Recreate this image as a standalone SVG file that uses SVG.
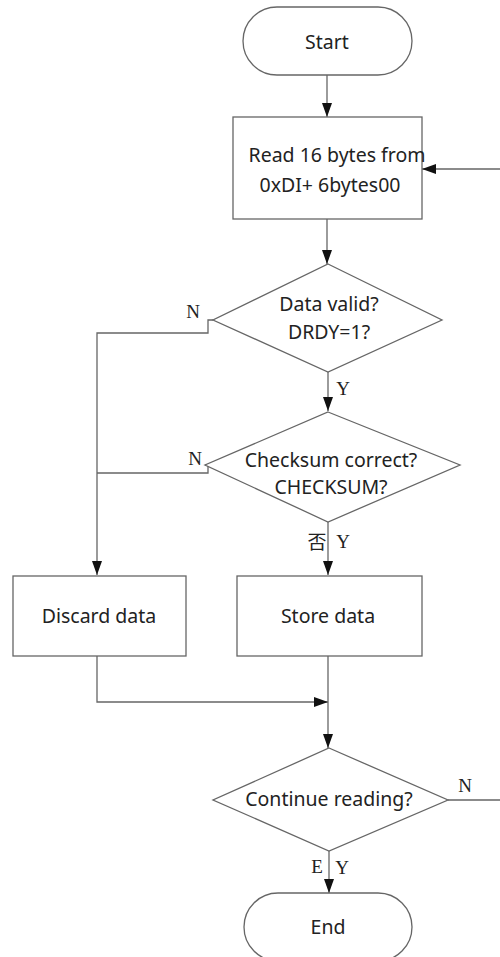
<svg xmlns="http://www.w3.org/2000/svg" width="500" height="957" viewBox="0 0 500 957">
<defs>
<marker id="ah" viewBox="0 0 14 10" refX="14" refY="5" markerWidth="14" markerHeight="10" markerUnits="userSpaceOnUse" orient="auto">
<path d="M0,0 L14,5 L0,10 Z" fill="#111"/>
</marker>
</defs>
<style>
.shape{fill:#fff;stroke:#666;stroke-width:1.3}
.line{fill:none;stroke:#666;stroke-width:1.3}
.t{font-family:"Noto Sans","Open Sans",sans-serif;font-size:19.5px;fill:#222;text-anchor:middle;dominant-baseline:central}
.lbl{font-family:"Liberation Serif","Noto Sans CJK SC",serif;font-size:19px;fill:#222;text-anchor:middle;dominant-baseline:central}
</style>
<rect width="500" height="957" fill="#fff"/>
<g id="connectors">
<path class="line" d="M327,75 V117" marker-end="url(#ah)"/>
<path class="line" d="M327,219 V264" marker-end="url(#ah)"/>
<path class="line" d="M328,372 V411" marker-end="url(#ah)"/>
<path class="line" d="M328,522 V575" marker-end="url(#ah)"/>
<path class="line" d="M213,320 H208 V333 H97 V575" marker-end="url(#ah)"/>
<path class="line" d="M205,465 H208 V473 H97"/>
<path class="line" d="M97,656 V702 H328" marker-end="url(#ah)"/>
<path class="line" d="M328,656 V748" marker-end="url(#ah)"/>
<path class="line" d="M329,851 V893" marker-end="url(#ah)"/>
<path class="line" d="M448,800 H502 V169 H422" marker-end="url(#ah)"/>
<text class="lbl" x="193" y="311">N</text>
<text class="lbl" x="343" y="388">Y</text>
<text class="lbl" x="195" y="458">N</text>
<text class="lbl" x="317" y="542" font-size="15">否</text>
<text class="lbl" x="343" y="541">Y</text>
<text class="lbl" x="465" y="785">N</text>
<text class="lbl" x="317" y="866">E</text>
<text class="lbl" x="342" y="867">Y</text>
</g>
<g id="start">
<rect class="shape" x="243" y="7" width="169" height="68" rx="34" ry="34"/>
<text class="t" x="327" y="41">Start</text>
</g>
<g id="read">
<rect class="shape" x="233" y="117" width="189" height="102"/>
<text class="t" x="337" y="154">Read 16 bytes from</text>
<text class="t" x="330" y="184">0xDI+ 6bytes00</text>
</g>
<g id="valid">
<polygon class="shape" points="328,264 442,320 328,372 213,320"/>
<text class="t" x="329" y="303">Data valid?</text>
<text class="t" x="329" y="331">DRDY=1?</text>
</g>
<g id="checksum">
<polygon class="shape" points="328,412 460,465 328,522 205,465"/>
<text class="t" x="331" y="459">Checksum correct?</text>
<text class="t" x="331" y="486">CHECKSUM?</text>
</g>
<g id="discard">
<rect class="shape" x="13" y="576" width="173" height="80"/>
<text class="t" x="99" y="615">Discard data</text>
</g>
<g id="store">
<rect class="shape" x="237" y="576" width="185" height="80"/>
<text class="t" x="328" y="615">Store data</text>
</g>
<g id="continue">
<polygon class="shape" points="329,748 448,800 329,851 213,800"/>
<text class="t" x="329" y="798">Continue reading?</text>
</g>
<g id="end">
<rect class="shape" x="244" y="893" width="168" height="68" rx="34" ry="34"/>
<text class="t" x="328" y="926">End</text>
</g>
</svg>
